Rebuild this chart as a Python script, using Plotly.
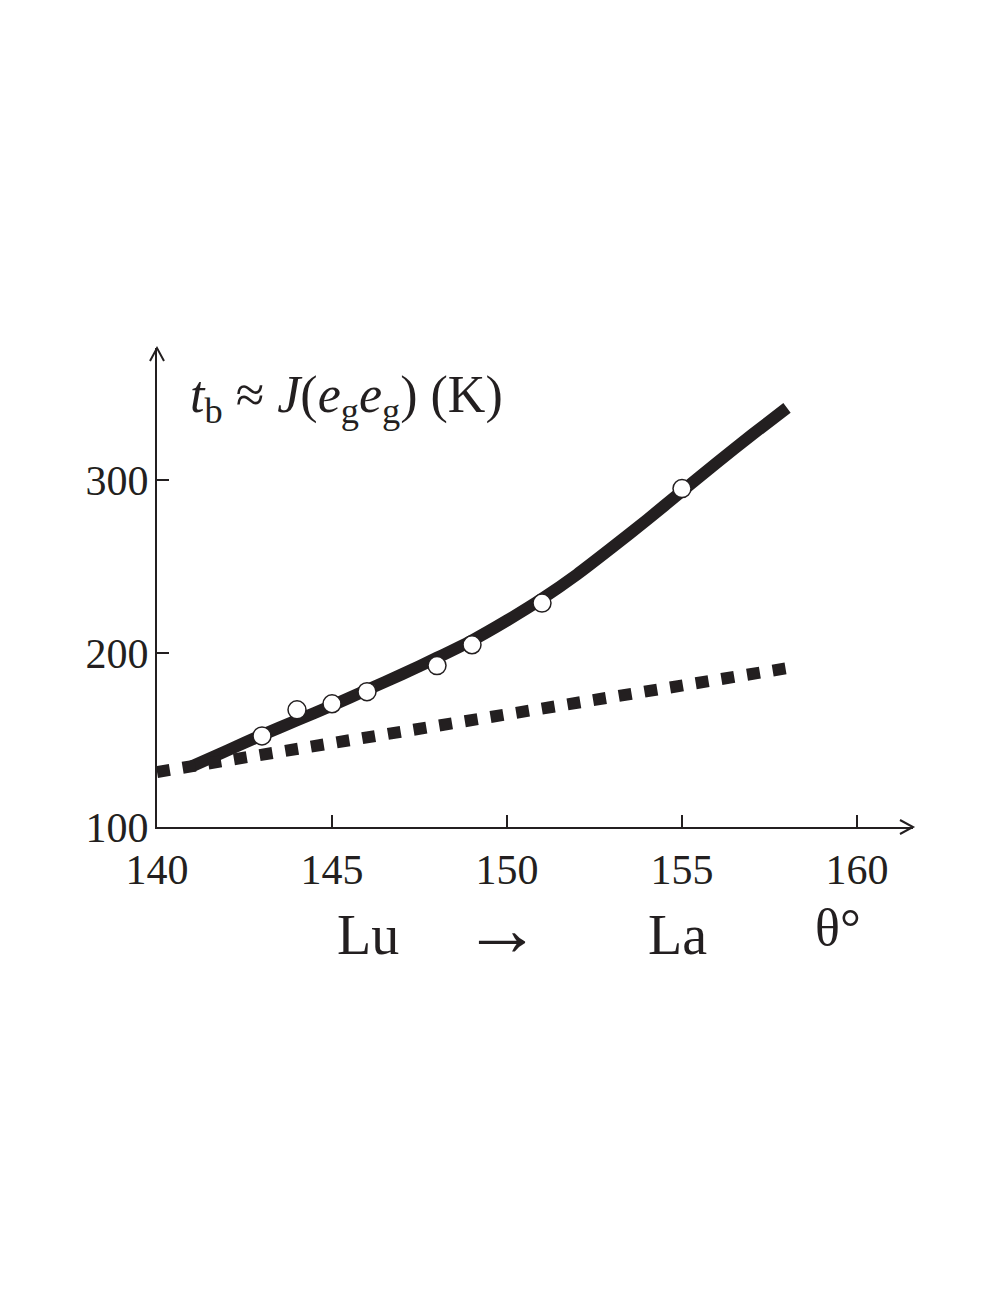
import plotly.graph_objects as go

# measured points (open circles)
theta_pts = [143, 144, 145, 146, 148, 149, 151, 155]
tb_pts = [152.5, 167.5, 171, 178, 193, 205, 229, 295]

# solid fitted curve
theta_curve = [141, 142, 143, 144, 145, 146, 147, 148, 149, 150, 151, 152, 153, 154, 155, 156, 157, 158]
tb_curve = [135, 144, 153, 161.5, 170, 179, 188, 197.5, 207.5, 219, 231.5, 245.5, 261, 277, 293.5, 310, 326, 341.5]

# dotted line
theta_dot = [140, 158]
tb_dot = [131.7, 191.5]

x_ticks = [140, 145, 150, 155, 160]
y_ticks = [100, 200, 300]

INK = "#231f20"
SERIF = "Liberation Serif, Times New Roman, serif"

fig = go.Figure()

fig.add_trace(go.Scatter(
    x=theta_curve, y=tb_curve, mode="lines",
    line=dict(color=INK, width=12, shape="spline", smoothing=0.6),
    cliponaxis=False, hoverinfo="skip",
))
fig.add_trace(go.Scatter(
    x=theta_dot, y=tb_dot, mode="lines",
    line=dict(color=INK, width=12, dash="13px,13px"),
    cliponaxis=False, hoverinfo="skip",
))
fig.add_trace(go.Scatter(
    x=theta_pts, y=tb_pts, mode="markers",
    marker=dict(symbol="circle", size=18, color="white",
                line=dict(color=INK, width=1.5)),
    cliponaxis=False,
))

# page body adds 8px, so the plot box sits at 157..913 x 348..827
fig.update_layout(
    width=980, height=1270,
    margin=dict(l=149, r=75, t=340, b=451),
    paper_bgcolor="white", plot_bgcolor="white",
    showlegend=False,
    font=dict(family=SERIF, color=INK),
)

fig.update_xaxes(
    range=[140, 161.6], showgrid=False, zeroline=False,
    showline=True, linecolor=INK, linewidth=2,
    ticks="inside", ticklen=12, tickwidth=2, tickcolor=INK,
    tickvals=x_ticks, ticktext=[str(v) for v in x_ticks],
    tickfont=dict(family=SERIF, size=42, color=INK),
    ticklabelstandoff=5,
)
fig.update_yaxes(
    range=[100, 376], showgrid=False, zeroline=False,
    showline=True, linecolor=INK, linewidth=2,
    ticks="inside", ticklen=12, tickwidth=2, tickcolor=INK,
    tickvals=y_ticks, ticktext=[str(v) for v in y_ticks],
    tickfont=dict(family=SERIF, size=42, color=INK),
    ticklabelstandoff=-2,
)

# arrowheads at the axis ends
fig.add_shape(type="path", xref="paper", yref="paper", xsizemode="pixel", ysizemode="pixel",
              xanchor=1, yanchor=0, path="M-13,7 L0,0 L-13,-7",
              line=dict(color=INK, width=2))
fig.add_shape(type="path", xref="paper", yref="paper", xsizemode="pixel", ysizemode="pixel",
              xanchor=0, yanchor=1, path="M-7,-13 L0,0 L7,-13",
              line=dict(color=INK, width=2))

fig.add_annotation(
    x=140.89, y=347, xref="x", yref="y", xanchor="left", yanchor="middle",
    text="<i>t</i><sub>b</sub> ≈ <i>J</i>(<i>e</i><sub>g</sub><i>e</i><sub>g</sub>) (K)",
    showarrow=False, font=dict(family=SERIF, size=52, color=INK),
)
axis_words = [("Lu", 146.03, -0.226, 56), ("→", 149.86, -0.211, 78),
              ("La", 154.86, -0.226, 56), ("θ°", 159.46, -0.2095, 52)]
for word, xw, yw, size in axis_words:
    fig.add_annotation(x=xw, y=yw, xref="x", yref="paper", text=word, showarrow=False,
                       xanchor="center", yanchor="middle",
                       font=dict(family=SERIF, size=size, color=INK))

fig.write_html("out.html")
